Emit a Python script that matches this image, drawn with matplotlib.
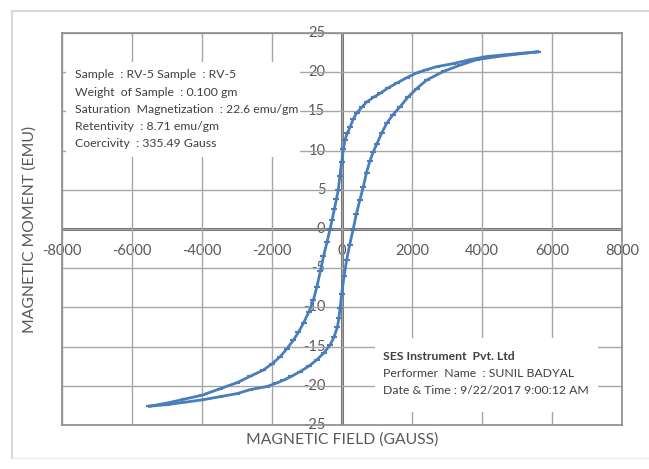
import matplotlib as mpl
import matplotlib.pyplot as plt
from matplotlib.patches import Rectangle
from matplotlib.lines import Line2D

mpl.rcParams['font.family'] = ['Lato', 'DejaVu Sans']

# descending branch (field going from +max to -max)
h_down = [5600, 5100, 4600, 4130, 3660, 3180, 2700, 2400, 2130, 1850, 1560, 1320,
          1090, 900, 705, 560, 420, 320, 230, 150, 86, 40, -10, -60, -105, -160,
          -220, -280, -340, -430, -530, -620, -720, -820, -950, -1100, -1250,
          -1390, -1580, -1770, -2000, -2250, -2630, -3000, -3500, -4000, -4500,
          -5000, -5500]
m_down = [22.6, 22.4, 22.2, 22.0, 21.6, 21.1, 20.7, 20.3, 19.9, 19.3, 18.6, 18.0,
          17.3, 16.8, 16.2, 15.5, 14.8, 14.0, 13.0, 12.2, 11.4, 10.2, 8.5, 6.8,
          5.0, 3.8, 2.5, 1.2, 0.0, -1.7, -3.5, -5.4, -7.4, -9.1, -10.6, -12.0,
          -13.2, -14.2, -15.3, -16.3, -17.2, -18.0, -18.8, -19.6, -20.4, -21.2,
          -21.7, -22.2, -22.6]

# ascending branch (field going from -max to +max)
h_up = [-5500, -5000, -4500, -4000, -3500, -3000, -2630, -2400, -2150, -1900,
        -1680, -1450, -1200, -950, -720, -520, -340, -230, -130, -90, -55, -10,
        60, 130, 220, 320, 410, 510, 610, 700, 800, 890, 990, 1130, 1280, 1460,
        1660, 1880, 2130, 2420, 2900, 3370, 3850, 4300, 4800, 5200, 5600]
m_up = [-22.6, -22.4, -22.1, -21.8, -21.4, -21.0, -20.5, -20.3, -20.1, -19.7,
        -19.3, -18.8, -18.2, -17.5, -16.7, -15.8, -14.8, -13.8, -12.5, -11.4,
        -10.1, -8.3, -6.0, -4.0, -2.0, 0.0, 1.9, 3.7, 5.4, 7.2, 8.7, 9.8, 10.8,
        12.2, 13.5, 14.6, 15.6, 16.8, 17.9, 19.0, 20.1, 20.9, 21.6, 21.9, 22.2,
        22.4, 22.6]

x_ticks = [-8000, -6000, -4000, -2000, 0, 2000, 4000, 6000, 8000]
y_ticks = [25, 20, 15, 10, 5, 0, -5, -10, -15, -20, -25]

info_lines = ['Sample  : RV-5 Sample  : RV-5',
              'Weight  of Sample  : 0.100 gm',
              'Saturation  Magnetization  : 22.6 emu/gm',
              'Retentivity  : 8.71 emu/gm',
              'Coercivity  : 335.49 Gauss']
lab_lines = ['SES Instrument  Pvt. Ltd',
             'Performer  Name  : SUNIL BADYAL',
             'Date & Time : 9/22/2017 9:00:12 AM']

blue = '#4a7ebb'
grid_c = '#a6a6a6'
txt_c = '#404040'

fig = plt.figure(figsize=(6.49, 4.69), dpi=100)
W, H = 649, 469

# outer chart frame
fig.add_artist(Line2D([12 / W, 1], [1 - 11 / H, 1 - 11 / H], color='#d9d9d9', lw=1.5))
fig.add_artist(Line2D([12 / W, 12 / W], [1 - 11 / H, 1 - 458 / H], color='#d9d9d9', lw=1.5))
fig.add_artist(Line2D([12 / W, 1], [1 - 458 / H, 1 - 458 / H], color='#ececec', lw=1))

ax = fig.add_axes([62 / W, 1 - 425 / H, 560 / W, 392 / H])
ax.set_xlim(-8000, 8000)
ax.set_ylim(-25, 25)
ax.set_xticks(x_ticks)
ax.set_yticks(y_ticks)
ax.tick_params(length=0, labelbottom=False, labelleft=False)
ax.grid(True, color=grid_c, lw=1)
for s in ax.spines.values():
    s.set_color('#8c8c8c')
    s.set_linewidth(1.2)
ax.axhline(0, color='#6e6e6e', lw=2.2, zorder=1.5)
ax.axvline(0, color='#6e6e6e', lw=2.2, zorder=1.5)

ax.plot(h_down, m_down, color=blue, lw=2, zorder=3)
ax.plot(h_up, m_up, color=blue, lw=2, zorder=3)
ax.plot(h_down, m_down, ls='none', marker='_', ms=5, mew=1.5, color=blue, zorder=3)
ax.plot(h_up, m_up, ls='none', marker='_', ms=5, mew=1.5, color=blue, zorder=3)

# tick labels along the zero axes
for xv in x_ticks:
    ax.annotate(str(xv), xy=(xv, 0), xytext=(0, -16), textcoords='offset points',
                ha='center', va='center', fontsize=10.5, color='#595959', zorder=1)
for yv in y_ticks:
    ax.annotate(str(yv), xy=(0, yv), xytext=(-12, 0), textcoords='offset points',
                ha='right', va='center', fontsize=10.5, color='#595959', zorder=1)

# white boxes behind the annotations
ax.add_patch(Rectangle((-7900, 9.2), 6700, 12.1, facecolor='white',
                       edgecolor='none', zorder=2.5))
ax.add_patch(Rectangle((940, -23.3), 6370, 9.4, facecolor='white',
                       edgecolor='none', zorder=2.5))

y0 = 1 - 75 / H
for i, t in enumerate(info_lines):
    fig.text(75 / W, y0 - i * 17.2 / H, t, fontsize=8.8, color=txt_c,
             va='center', ha='left', zorder=5)
y1 = 1 - 356 / H
for i, t in enumerate(lab_lines):
    fig.text(383 / W, y1 - i * 17 / H, t, fontsize=8.8, color=txt_c,
             va='center', ha='left', weight='bold' if i == 0 else 'normal', zorder=5)

fig.text(30 / W, 1 - 229 / H, 'MAGNETIC MOMENT (EMU)', rotation=90, ha='center',
         va='center', fontsize=11.3, color='#595959')
fig.text(342 / W, 1 - 440 / H, 'MAGNETIC FIELD (GAUSS)', ha='center', va='center',
         fontsize=11.3, color='#595959')

fig.savefig('out.png', dpi=100)
